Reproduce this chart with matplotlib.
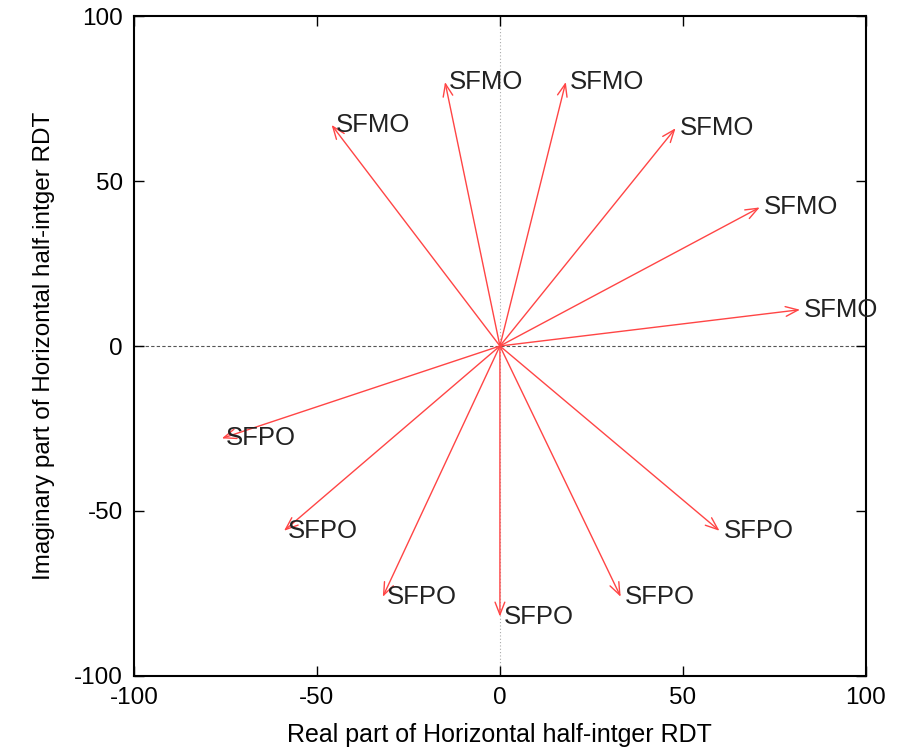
import matplotlib
matplotlib.use("Agg")
import matplotlib.pyplot as plt

# arrow tips (real, imaginary)
sfmo_re = [-15, 18, -46, 48, 71, 82]
sfmo_im = [80, 80, 67, 66, 42, 11]
sfpo_re = [-76, -59, -32, 0, 33, 60]
sfpo_im = [-28, -56, -76, -82, -76, -56]

plt.rcParams['font.family'] = ['Liberation Sans', 'DejaVu Sans']
plt.rcParams['axes.unicode_minus'] = False

fig = plt.figure(figsize=(9.01, 7.49), dpi=100)
ax = fig.add_axes([0.1487, 0.0975, 0.8123, 0.8811])

ax.axhline(0, color='#555555', lw=0.8, ls=(0, (3, 2)), zorder=1)
ax.axvline(0, color='#aaaaaa', lw=0.8, ls=(0, (1, 2)), zorder=1)


def draw(res, ims, name):
    for x, y in zip(res, ims):
        ax.annotate('', xy=(x, y), xytext=(0, 0),
                    arrowprops=dict(arrowstyle='->,head_length=0.9,head_width=0.35',
                                    color='#ff4545', lw=1.0,
                                    shrinkA=0, shrinkB=0))
        ax.annotate(name, xy=(x, y), xytext=(3, 0), textcoords='offset points',
                    ha='left', va='center', fontsize=18.5, color='#222222')


draw(sfmo_re, sfmo_im, 'SFMO')
draw(sfpo_re, sfpo_im, 'SFPO')

ax.set_xlim(-100, 100)
ax.set_ylim(-100, 100)
ax.set_xticks([-100, -50, 0, 50, 100])
ax.set_yticks([-100, -50, 0, 50, 100])
ax.tick_params(direction='in', length=7, width=1, labelsize=17.5,
               top=True, right=True, pad=8)
for s in ax.spines.values():
    s.set_linewidth(1.5)

ax.set_xlabel('Real part of Horizontal half-intger RDT', fontsize=18, labelpad=10)
ax.set_ylabel('Imaginary part of Horizontal half-intger RDT', fontsize=17.5, labelpad=14)

fig.savefig('out.png', dpi=100)
